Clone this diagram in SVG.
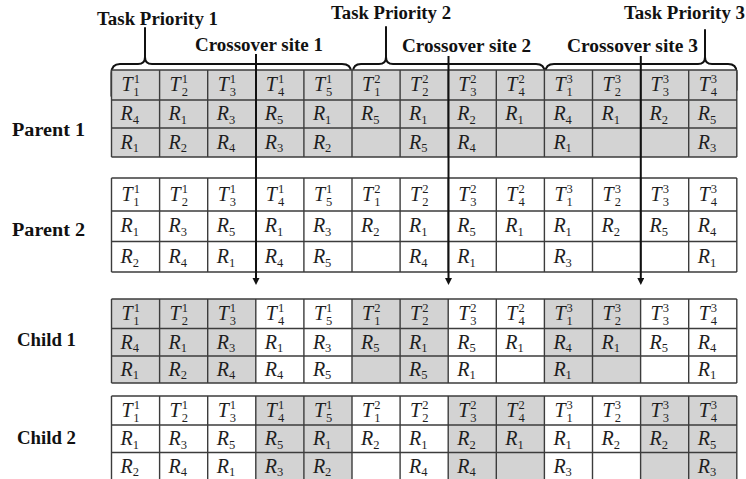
<svg xmlns="http://www.w3.org/2000/svg" width="746" height="479" viewBox="0 0 746 479">
<style>
.bg{fill:#ffffff}
.gr{fill:#d3d3d3}
.grid{fill:none;stroke:#3c3c3c;stroke-width:1.4}
.m{font-family:"Liberation Serif","Times New Roman",serif;font-style:italic;font-size:20px;fill:#1e1e1e}
.s{font-style:normal;font-size:12.5px}
.lbl{font-family:"Liberation Serif","Times New Roman",serif;font-weight:bold;font-size:18px;fill:#111}
.brace{fill:none;stroke:#111;stroke-width:2;stroke-linejoin:round;stroke-linecap:round}
.xo{fill:none;stroke:#111;stroke-width:2}
</style>
<defs>
<marker id="ah" markerUnits="userSpaceOnUse" markerWidth="8" markerHeight="8" refX="0" refY="3.5" orient="auto">
<path d="M0,0 L7,3.5 L0,7 z" fill="#111"/>
</marker>
</defs>
<rect class="bg" x="0" y="0" width="746" height="479"/>

<g id="priority1">
<text class="lbl" x="97" y="25" textLength="121" lengthAdjust="spacingAndGlyphs">Task Priority 1</text>
<path class="brace" d="M111.5,96 L111.5,73 Q111.5,64 120,64 L138,64 Q145,64 145,57 L145,28 M145,57 Q145,64 152,64 L342,64 Q351,64 351,72 L351,90"/>
</g>
<g id="priority2">
<text class="lbl" x="331" y="19" textLength="120" lengthAdjust="spacingAndGlyphs">Task Priority 2</text>
<path class="brace" d="M353,90 L353,72 Q353,64 361,64 L379,64 Q386,64 386,57 L386,27 M386,57 Q386,64 393,64 L536,64 Q544.5,64 544.5,72 L544.5,90"/>
</g>
<g id="priority3">
<text class="lbl" x="624" y="19" textLength="121" lengthAdjust="spacingAndGlyphs">Task Priority 3</text>
<path class="brace" d="M545.5,90 L545.5,72 Q545.5,64 554,64 L698,64 Q705,64 705,57 L705,30 M705,57 Q705,64 712,64 L728,64 Q736.5,64 736.5,72 L736.5,90"/>
</g>

<g id="parent1">
<text class="lbl" x="12" y="136" textLength="73" lengthAdjust="spacingAndGlyphs">Parent 1</text>
<rect class="gr" x="111.5" y="70" width="625.3" height="87"/>
<path class="grid" d="M111.5,70H736.8M111.5,100H736.8M111.5,128H736.8M111.5,157H736.8M111.5,70V157M159.6,70V157M207.7,70V157M255.8,70V157M303.9,70V157M352,70V157M400.1,70V157M448.2,70V157M496.3,70V157M544.4,70V157M592.5,70V157M640.6,70V157M688.7,70V157M736.8,70V157"/>
<text class="m" x="121.5" y="91">T<tspan class="s" dx="1" dy="-8">1</tspan><tspan class="s" dx="-6.25" dy="13">1</tspan></text>
<text class="m" x="169.6" y="91">T<tspan class="s" dx="1" dy="-8">1</tspan><tspan class="s" dx="-6.25" dy="13">2</tspan></text>
<text class="m" x="217.7" y="91">T<tspan class="s" dx="1" dy="-8">1</tspan><tspan class="s" dx="-6.25" dy="13">3</tspan></text>
<text class="m" x="265.8" y="91">T<tspan class="s" dx="1" dy="-8">1</tspan><tspan class="s" dx="-6.25" dy="13">4</tspan></text>
<text class="m" x="313.9" y="91">T<tspan class="s" dx="1" dy="-8">1</tspan><tspan class="s" dx="-6.25" dy="13">5</tspan></text>
<text class="m" x="362" y="91">T<tspan class="s" dx="1" dy="-8">2</tspan><tspan class="s" dx="-6.25" dy="13">1</tspan></text>
<text class="m" x="410.1" y="91">T<tspan class="s" dx="1" dy="-8">2</tspan><tspan class="s" dx="-6.25" dy="13">2</tspan></text>
<text class="m" x="458.2" y="91">T<tspan class="s" dx="1" dy="-8">2</tspan><tspan class="s" dx="-6.25" dy="13">3</tspan></text>
<text class="m" x="506.3" y="91">T<tspan class="s" dx="1" dy="-8">2</tspan><tspan class="s" dx="-6.25" dy="13">4</tspan></text>
<text class="m" x="554.4" y="91">T<tspan class="s" dx="1" dy="-8">3</tspan><tspan class="s" dx="-6.25" dy="13">1</tspan></text>
<text class="m" x="602.5" y="91">T<tspan class="s" dx="1" dy="-8">3</tspan><tspan class="s" dx="-6.25" dy="13">2</tspan></text>
<text class="m" x="650.6" y="91">T<tspan class="s" dx="1" dy="-8">3</tspan><tspan class="s" dx="-6.25" dy="13">3</tspan></text>
<text class="m" x="698.7" y="91">T<tspan class="s" dx="1" dy="-8">3</tspan><tspan class="s" dx="-6.25" dy="13">4</tspan></text>
<text class="m" x="120.5" y="120">R<tspan class="s" dy="3.5">4</tspan></text>
<text class="m" x="168.6" y="120">R<tspan class="s" dy="3.5">1</tspan></text>
<text class="m" x="216.7" y="120">R<tspan class="s" dy="3.5">3</tspan></text>
<text class="m" x="264.8" y="120">R<tspan class="s" dy="3.5">5</tspan></text>
<text class="m" x="312.9" y="120">R<tspan class="s" dy="3.5">1</tspan></text>
<text class="m" x="361" y="120">R<tspan class="s" dy="3.5">5</tspan></text>
<text class="m" x="409.1" y="120">R<tspan class="s" dy="3.5">1</tspan></text>
<text class="m" x="457.2" y="120">R<tspan class="s" dy="3.5">2</tspan></text>
<text class="m" x="505.3" y="120">R<tspan class="s" dy="3.5">1</tspan></text>
<text class="m" x="553.4" y="120">R<tspan class="s" dy="3.5">4</tspan></text>
<text class="m" x="601.5" y="120">R<tspan class="s" dy="3.5">1</tspan></text>
<text class="m" x="649.6" y="120">R<tspan class="s" dy="3.5">2</tspan></text>
<text class="m" x="697.7" y="120">R<tspan class="s" dy="3.5">5</tspan></text>
<text class="m" x="120.5" y="148.5">R<tspan class="s" dy="3.5">1</tspan></text>
<text class="m" x="168.6" y="148.5">R<tspan class="s" dy="3.5">2</tspan></text>
<text class="m" x="216.7" y="148.5">R<tspan class="s" dy="3.5">4</tspan></text>
<text class="m" x="264.8" y="148.5">R<tspan class="s" dy="3.5">3</tspan></text>
<text class="m" x="312.9" y="148.5">R<tspan class="s" dy="3.5">2</tspan></text>
<text class="m" x="409.1" y="148.5">R<tspan class="s" dy="3.5">5</tspan></text>
<text class="m" x="457.2" y="148.5">R<tspan class="s" dy="3.5">4</tspan></text>
<text class="m" x="553.4" y="148.5">R<tspan class="s" dy="3.5">1</tspan></text>
<text class="m" x="697.7" y="148.5">R<tspan class="s" dy="3.5">3</tspan></text>
</g>

<g id="parent2">
<text class="lbl" x="12" y="236" textLength="73" lengthAdjust="spacingAndGlyphs">Parent 2</text>
<rect class="bg" x="111.5" y="178" width="625.3" height="94"/>
<path class="grid" d="M111.5,178H736.8M111.5,211H736.8M111.5,241.5H736.8M111.5,272H736.8M111.5,178V272M159.6,178V272M207.7,178V272M255.8,178V272M303.9,178V272M352,178V272M400.1,178V272M448.2,178V272M496.3,178V272M544.4,178V272M592.5,178V272M640.6,178V272M688.7,178V272M736.8,178V272"/>
<text class="m" x="121.5" y="200.5">T<tspan class="s" dx="1" dy="-8">1</tspan><tspan class="s" dx="-6.25" dy="13">1</tspan></text>
<text class="m" x="169.6" y="200.5">T<tspan class="s" dx="1" dy="-8">1</tspan><tspan class="s" dx="-6.25" dy="13">2</tspan></text>
<text class="m" x="217.7" y="200.5">T<tspan class="s" dx="1" dy="-8">1</tspan><tspan class="s" dx="-6.25" dy="13">3</tspan></text>
<text class="m" x="265.8" y="200.5">T<tspan class="s" dx="1" dy="-8">1</tspan><tspan class="s" dx="-6.25" dy="13">4</tspan></text>
<text class="m" x="313.9" y="200.5">T<tspan class="s" dx="1" dy="-8">1</tspan><tspan class="s" dx="-6.25" dy="13">5</tspan></text>
<text class="m" x="362" y="200.5">T<tspan class="s" dx="1" dy="-8">2</tspan><tspan class="s" dx="-6.25" dy="13">1</tspan></text>
<text class="m" x="410.1" y="200.5">T<tspan class="s" dx="1" dy="-8">2</tspan><tspan class="s" dx="-6.25" dy="13">2</tspan></text>
<text class="m" x="458.2" y="200.5">T<tspan class="s" dx="1" dy="-8">2</tspan><tspan class="s" dx="-6.25" dy="13">3</tspan></text>
<text class="m" x="506.3" y="200.5">T<tspan class="s" dx="1" dy="-8">2</tspan><tspan class="s" dx="-6.25" dy="13">4</tspan></text>
<text class="m" x="554.4" y="200.5">T<tspan class="s" dx="1" dy="-8">3</tspan><tspan class="s" dx="-6.25" dy="13">1</tspan></text>
<text class="m" x="602.5" y="200.5">T<tspan class="s" dx="1" dy="-8">3</tspan><tspan class="s" dx="-6.25" dy="13">2</tspan></text>
<text class="m" x="650.6" y="200.5">T<tspan class="s" dx="1" dy="-8">3</tspan><tspan class="s" dx="-6.25" dy="13">3</tspan></text>
<text class="m" x="698.7" y="200.5">T<tspan class="s" dx="1" dy="-8">3</tspan><tspan class="s" dx="-6.25" dy="13">4</tspan></text>
<text class="m" x="120.5" y="232">R<tspan class="s" dy="3.5">1</tspan></text>
<text class="m" x="168.6" y="232">R<tspan class="s" dy="3.5">3</tspan></text>
<text class="m" x="216.7" y="232">R<tspan class="s" dy="3.5">5</tspan></text>
<text class="m" x="264.8" y="232">R<tspan class="s" dy="3.5">1</tspan></text>
<text class="m" x="312.9" y="232">R<tspan class="s" dy="3.5">3</tspan></text>
<text class="m" x="361" y="232">R<tspan class="s" dy="3.5">2</tspan></text>
<text class="m" x="409.1" y="232">R<tspan class="s" dy="3.5">1</tspan></text>
<text class="m" x="457.2" y="232">R<tspan class="s" dy="3.5">5</tspan></text>
<text class="m" x="505.3" y="232">R<tspan class="s" dy="3.5">1</tspan></text>
<text class="m" x="553.4" y="232">R<tspan class="s" dy="3.5">1</tspan></text>
<text class="m" x="601.5" y="232">R<tspan class="s" dy="3.5">2</tspan></text>
<text class="m" x="649.6" y="232">R<tspan class="s" dy="3.5">5</tspan></text>
<text class="m" x="697.7" y="232">R<tspan class="s" dy="3.5">4</tspan></text>
<text class="m" x="120.5" y="263">R<tspan class="s" dy="3.5">2</tspan></text>
<text class="m" x="168.6" y="263">R<tspan class="s" dy="3.5">4</tspan></text>
<text class="m" x="216.7" y="263">R<tspan class="s" dy="3.5">1</tspan></text>
<text class="m" x="264.8" y="263">R<tspan class="s" dy="3.5">4</tspan></text>
<text class="m" x="312.9" y="263">R<tspan class="s" dy="3.5">5</tspan></text>
<text class="m" x="409.1" y="263">R<tspan class="s" dy="3.5">4</tspan></text>
<text class="m" x="457.2" y="263">R<tspan class="s" dy="3.5">1</tspan></text>
<text class="m" x="553.4" y="263">R<tspan class="s" dy="3.5">3</tspan></text>
<text class="m" x="697.7" y="263">R<tspan class="s" dy="3.5">1</tspan></text>
</g>

<g id="child1">
<text class="lbl" x="17" y="346" textLength="59" lengthAdjust="spacingAndGlyphs">Child 1</text>
<rect class="bg" x="111.5" y="299" width="625.3" height="84"/>
<rect class="gr" x="111.5" y="299" width="144.3" height="84"/>
<rect class="gr" x="352" y="299" width="96.2" height="84"/>
<rect class="gr" x="544.4" y="299" width="96.2" height="84"/>
<path class="grid" d="M111.5,299H736.8M111.5,328.5H736.8M111.5,356H736.8M111.5,383H736.8M111.5,299V383M159.6,299V383M207.7,299V383M255.8,299V383M303.9,299V383M352,299V383M400.1,299V383M448.2,299V383M496.3,299V383M544.4,299V383M592.5,299V383M640.6,299V383M688.7,299V383M736.8,299V383"/>
<text class="m" x="121.5" y="320">T<tspan class="s" dx="1" dy="-8">1</tspan><tspan class="s" dx="-6.25" dy="13">1</tspan></text>
<text class="m" x="169.6" y="320">T<tspan class="s" dx="1" dy="-8">1</tspan><tspan class="s" dx="-6.25" dy="13">2</tspan></text>
<text class="m" x="217.7" y="320">T<tspan class="s" dx="1" dy="-8">1</tspan><tspan class="s" dx="-6.25" dy="13">3</tspan></text>
<text class="m" x="265.8" y="320">T<tspan class="s" dx="1" dy="-8">1</tspan><tspan class="s" dx="-6.25" dy="13">4</tspan></text>
<text class="m" x="313.9" y="320">T<tspan class="s" dx="1" dy="-8">1</tspan><tspan class="s" dx="-6.25" dy="13">5</tspan></text>
<text class="m" x="362" y="320">T<tspan class="s" dx="1" dy="-8">2</tspan><tspan class="s" dx="-6.25" dy="13">1</tspan></text>
<text class="m" x="410.1" y="320">T<tspan class="s" dx="1" dy="-8">2</tspan><tspan class="s" dx="-6.25" dy="13">2</tspan></text>
<text class="m" x="458.2" y="320">T<tspan class="s" dx="1" dy="-8">2</tspan><tspan class="s" dx="-6.25" dy="13">3</tspan></text>
<text class="m" x="506.3" y="320">T<tspan class="s" dx="1" dy="-8">2</tspan><tspan class="s" dx="-6.25" dy="13">4</tspan></text>
<text class="m" x="554.4" y="320">T<tspan class="s" dx="1" dy="-8">3</tspan><tspan class="s" dx="-6.25" dy="13">1</tspan></text>
<text class="m" x="602.5" y="320">T<tspan class="s" dx="1" dy="-8">3</tspan><tspan class="s" dx="-6.25" dy="13">2</tspan></text>
<text class="m" x="650.6" y="320">T<tspan class="s" dx="1" dy="-8">3</tspan><tspan class="s" dx="-6.25" dy="13">3</tspan></text>
<text class="m" x="698.7" y="320">T<tspan class="s" dx="1" dy="-8">3</tspan><tspan class="s" dx="-6.25" dy="13">4</tspan></text>
<text class="m" x="120.5" y="348.5">R<tspan class="s" dy="3.5">4</tspan></text>
<text class="m" x="168.6" y="348.5">R<tspan class="s" dy="3.5">1</tspan></text>
<text class="m" x="216.7" y="348.5">R<tspan class="s" dy="3.5">3</tspan></text>
<text class="m" x="264.8" y="348.5">R<tspan class="s" dy="3.5">1</tspan></text>
<text class="m" x="312.9" y="348.5">R<tspan class="s" dy="3.5">3</tspan></text>
<text class="m" x="361" y="348.5">R<tspan class="s" dy="3.5">5</tspan></text>
<text class="m" x="409.1" y="348.5">R<tspan class="s" dy="3.5">1</tspan></text>
<text class="m" x="457.2" y="348.5">R<tspan class="s" dy="3.5">5</tspan></text>
<text class="m" x="505.3" y="348.5">R<tspan class="s" dy="3.5">1</tspan></text>
<text class="m" x="553.4" y="348.5">R<tspan class="s" dy="3.5">4</tspan></text>
<text class="m" x="601.5" y="348.5">R<tspan class="s" dy="3.5">1</tspan></text>
<text class="m" x="649.6" y="348.5">R<tspan class="s" dy="3.5">5</tspan></text>
<text class="m" x="697.7" y="348.5">R<tspan class="s" dy="3.5">4</tspan></text>
<text class="m" x="120.5" y="375.5">R<tspan class="s" dy="3.5">1</tspan></text>
<text class="m" x="168.6" y="375.5">R<tspan class="s" dy="3.5">2</tspan></text>
<text class="m" x="216.7" y="375.5">R<tspan class="s" dy="3.5">4</tspan></text>
<text class="m" x="264.8" y="375.5">R<tspan class="s" dy="3.5">4</tspan></text>
<text class="m" x="312.9" y="375.5">R<tspan class="s" dy="3.5">5</tspan></text>
<text class="m" x="409.1" y="375.5">R<tspan class="s" dy="3.5">5</tspan></text>
<text class="m" x="457.2" y="375.5">R<tspan class="s" dy="3.5">1</tspan></text>
<text class="m" x="553.4" y="375.5">R<tspan class="s" dy="3.5">1</tspan></text>
<text class="m" x="697.7" y="375.5">R<tspan class="s" dy="3.5">1</tspan></text>
</g>

<g id="child2">
<text class="lbl" x="17" y="444" textLength="59" lengthAdjust="spacingAndGlyphs">Child 2</text>
<rect class="bg" x="111.5" y="396" width="625.3" height="84"/>
<rect class="gr" x="255.8" y="396" width="96.2" height="84"/>
<rect class="gr" x="448.2" y="396" width="96.2" height="84"/>
<rect class="gr" x="640.6" y="396" width="96.2" height="84"/>
<path class="grid" d="M111.5,396H736.8M111.5,425H736.8M111.5,452.5H736.8M111.5,480H736.8M111.5,396V480M159.6,396V480M207.7,396V480M255.8,396V480M303.9,396V480M352,396V480M400.1,396V480M448.2,396V480M496.3,396V480M544.4,396V480M592.5,396V480M640.6,396V480M688.7,396V480M736.8,396V480"/>
<text class="m" x="121.5" y="416.5">T<tspan class="s" dx="1" dy="-8">1</tspan><tspan class="s" dx="-6.25" dy="13">1</tspan></text>
<text class="m" x="169.6" y="416.5">T<tspan class="s" dx="1" dy="-8">1</tspan><tspan class="s" dx="-6.25" dy="13">2</tspan></text>
<text class="m" x="217.7" y="416.5">T<tspan class="s" dx="1" dy="-8">1</tspan><tspan class="s" dx="-6.25" dy="13">3</tspan></text>
<text class="m" x="265.8" y="416.5">T<tspan class="s" dx="1" dy="-8">1</tspan><tspan class="s" dx="-6.25" dy="13">4</tspan></text>
<text class="m" x="313.9" y="416.5">T<tspan class="s" dx="1" dy="-8">1</tspan><tspan class="s" dx="-6.25" dy="13">5</tspan></text>
<text class="m" x="362" y="416.5">T<tspan class="s" dx="1" dy="-8">2</tspan><tspan class="s" dx="-6.25" dy="13">1</tspan></text>
<text class="m" x="410.1" y="416.5">T<tspan class="s" dx="1" dy="-8">2</tspan><tspan class="s" dx="-6.25" dy="13">2</tspan></text>
<text class="m" x="458.2" y="416.5">T<tspan class="s" dx="1" dy="-8">2</tspan><tspan class="s" dx="-6.25" dy="13">3</tspan></text>
<text class="m" x="506.3" y="416.5">T<tspan class="s" dx="1" dy="-8">2</tspan><tspan class="s" dx="-6.25" dy="13">4</tspan></text>
<text class="m" x="554.4" y="416.5">T<tspan class="s" dx="1" dy="-8">3</tspan><tspan class="s" dx="-6.25" dy="13">1</tspan></text>
<text class="m" x="602.5" y="416.5">T<tspan class="s" dx="1" dy="-8">3</tspan><tspan class="s" dx="-6.25" dy="13">2</tspan></text>
<text class="m" x="650.6" y="416.5">T<tspan class="s" dx="1" dy="-8">3</tspan><tspan class="s" dx="-6.25" dy="13">3</tspan></text>
<text class="m" x="698.7" y="416.5">T<tspan class="s" dx="1" dy="-8">3</tspan><tspan class="s" dx="-6.25" dy="13">4</tspan></text>
<text class="m" x="120.5" y="445">R<tspan class="s" dy="3.5">1</tspan></text>
<text class="m" x="168.6" y="445">R<tspan class="s" dy="3.5">3</tspan></text>
<text class="m" x="216.7" y="445">R<tspan class="s" dy="3.5">5</tspan></text>
<text class="m" x="264.8" y="445">R<tspan class="s" dy="3.5">5</tspan></text>
<text class="m" x="312.9" y="445">R<tspan class="s" dy="3.5">1</tspan></text>
<text class="m" x="361" y="445">R<tspan class="s" dy="3.5">2</tspan></text>
<text class="m" x="409.1" y="445">R<tspan class="s" dy="3.5">1</tspan></text>
<text class="m" x="457.2" y="445">R<tspan class="s" dy="3.5">2</tspan></text>
<text class="m" x="505.3" y="445">R<tspan class="s" dy="3.5">1</tspan></text>
<text class="m" x="553.4" y="445">R<tspan class="s" dy="3.5">1</tspan></text>
<text class="m" x="601.5" y="445">R<tspan class="s" dy="3.5">2</tspan></text>
<text class="m" x="649.6" y="445">R<tspan class="s" dy="3.5">2</tspan></text>
<text class="m" x="697.7" y="445">R<tspan class="s" dy="3.5">5</tspan></text>
<text class="m" x="120.5" y="472.5">R<tspan class="s" dy="3.5">2</tspan></text>
<text class="m" x="168.6" y="472.5">R<tspan class="s" dy="3.5">4</tspan></text>
<text class="m" x="216.7" y="472.5">R<tspan class="s" dy="3.5">1</tspan></text>
<text class="m" x="264.8" y="472.5">R<tspan class="s" dy="3.5">3</tspan></text>
<text class="m" x="312.9" y="472.5">R<tspan class="s" dy="3.5">2</tspan></text>
<text class="m" x="409.1" y="472.5">R<tspan class="s" dy="3.5">4</tspan></text>
<text class="m" x="457.2" y="472.5">R<tspan class="s" dy="3.5">4</tspan></text>
<text class="m" x="553.4" y="472.5">R<tspan class="s" dy="3.5">3</tspan></text>
<text class="m" x="697.7" y="472.5">R<tspan class="s" dy="3.5">3</tspan></text>
</g>

<g id="connectors">
<text class="lbl" x="195" y="51" textLength="128" lengthAdjust="spacingAndGlyphs">Crossover site 1</text>
<text class="lbl" x="402" y="52" textLength="129" lengthAdjust="spacingAndGlyphs">Crossover site 2</text>
<text class="lbl" x="567" y="52" textLength="131" lengthAdjust="spacingAndGlyphs">Crossover site 3</text>
<line class="xo" x1="256" y1="54" x2="256" y2="278" marker-end="url(#ah)"/>
<line class="xo" x1="448.5" y1="56" x2="448.5" y2="278" marker-end="url(#ah)"/>
<line class="xo" x1="640.8" y1="56" x2="640.8" y2="278" marker-end="url(#ah)"/>
</g>
</svg>
